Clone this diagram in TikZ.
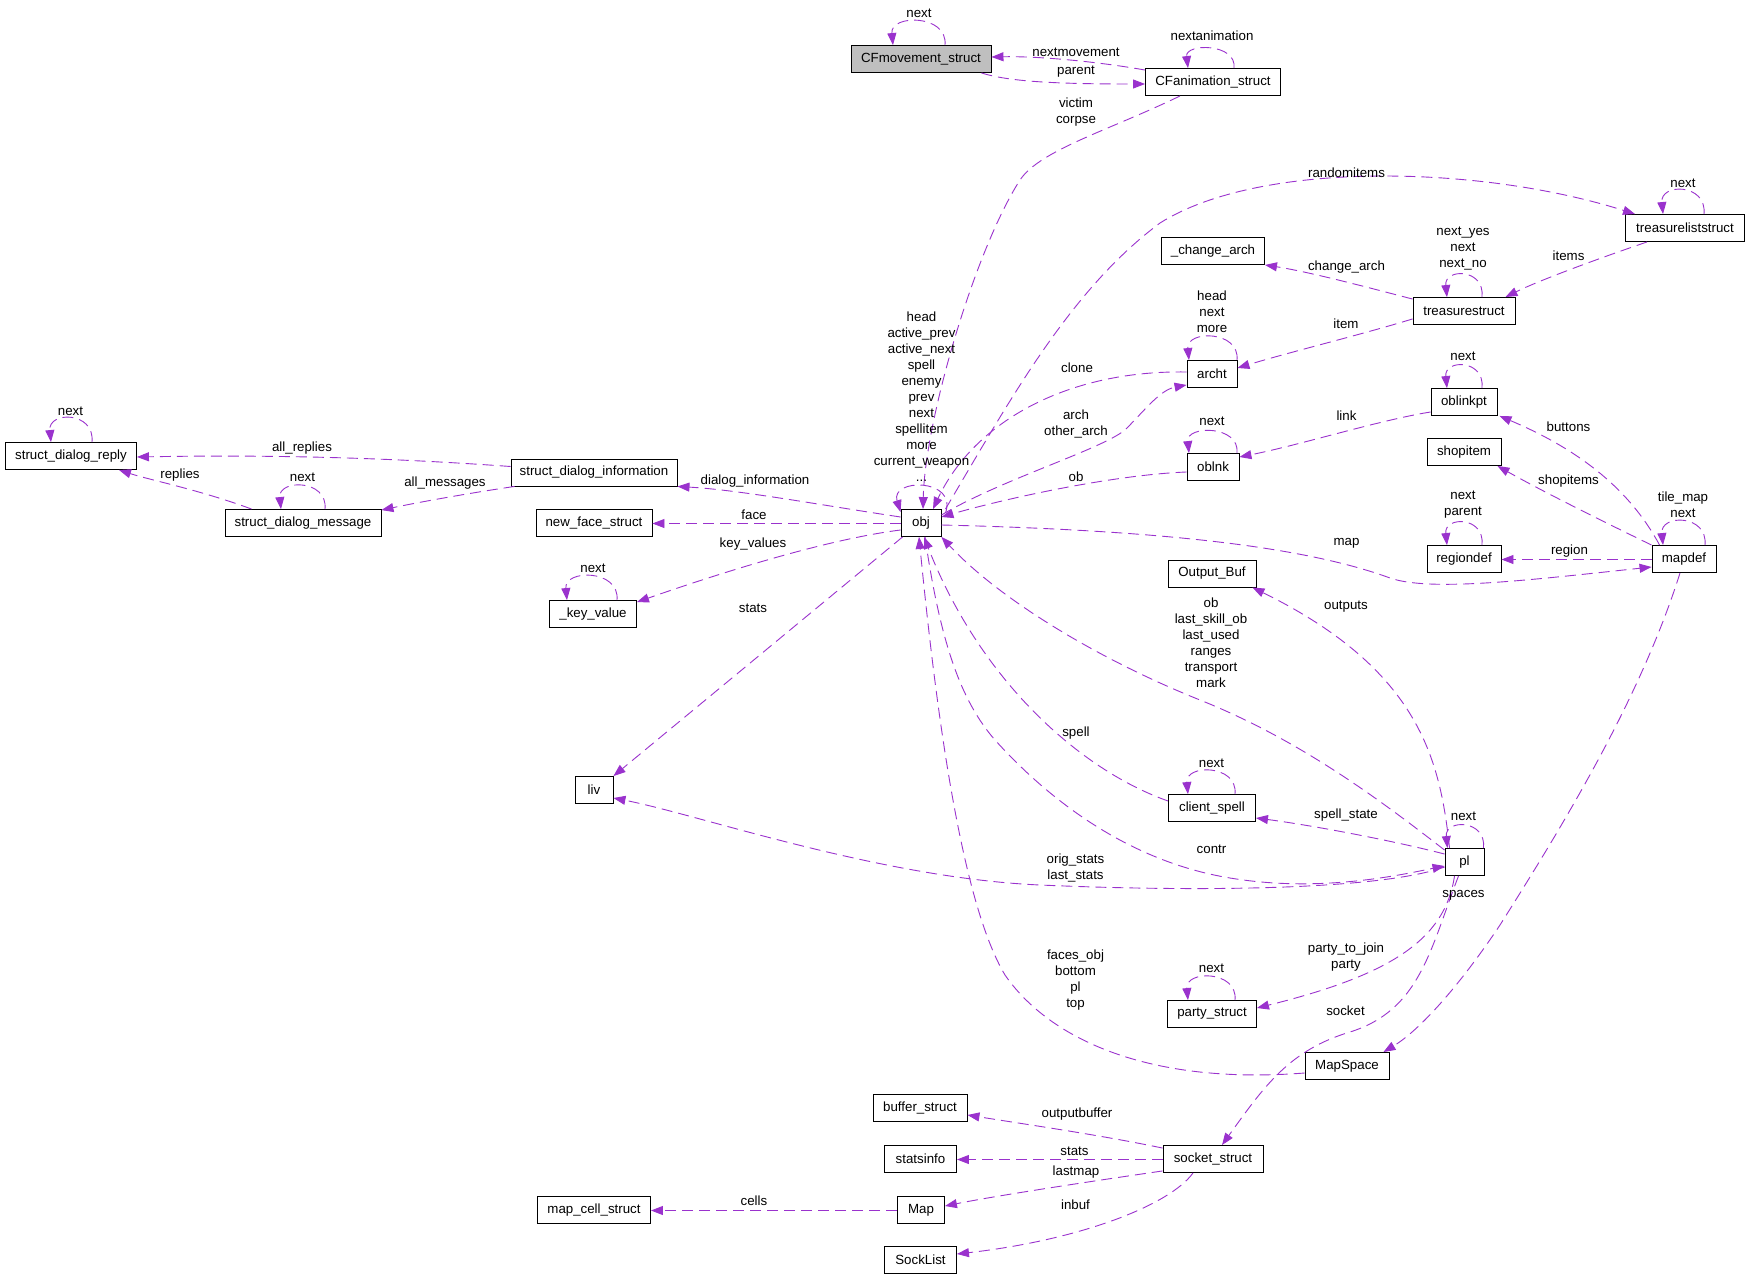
\documentclass[tikz,border=0pt]{standalone}
\usepackage{fontspec}
\setmainfont{Liberation Sans}
\usetikzlibrary{arrows.meta,calc}
\definecolor{oc}{RGB}{154,50,205}
\definecolor{hl}{RGB}{191,191,191}
\newcommand\selfloop[4]{\draw[rel] ($(#1.north)+(#2,0)$) .. controls +(3,-#4) and +(-3,-#4) .. ($(#1.north)+(-#3,0)$);}
\begin{document}
\begin{tikzpicture}[x=1pt,y=-1pt,
  every node/.style={font=\fontsize{13.3}{16}\selectfont, inner sep=0pt},
  cls/.style={draw=black, line width=0.9pt, minimum height=27pt, fill=white},
  lbl/.style={align=center},
  rel/.style={draw=oc, line width=0.9pt, dash pattern=on 11pt off 6pt, -{Triangle[length=12pt,width=9pt]}}]
\useasboundingbox (0,0) rectangle (1749,1279);
% classes
\node[cls, fill=hl, minimum width=140pt] (cfm) at (921,59) {CFmovement\_struct};
\node[cls, minimum width=135pt] (cfa) at (1213,82) {CFanimation\_struct};
\node[cls, minimum width=40pt] (obj) at (921,523) {obj};
\node[cls, minimum width=50pt] (archt) at (1212,374) {archt};
\node[cls, minimum width=52pt] (oblnk) at (1213,467) {oblnk};
\node[cls, minimum width=119pt] (tls) at (1685,228) {treasureliststruct};
\node[cls, minimum width=103pt] (cha) at (1213,251) {\_change\_arch};
\node[cls, minimum width=102pt] (tst) at (1464,311) {treasurestruct};
\node[cls, minimum width=66pt] (oblinkpt) at (1464,402) {oblinkpt};
\node[cls, minimum width=74pt] (shopitem) at (1464,452) {shopitem};
\node[cls, minimum width=74pt] (regiondef) at (1464,559) {regiondef};
\node[cls, minimum width=64pt] (mapdef) at (1684,559) {mapdef};
\node[cls, minimum width=88pt] (outbuf) at (1212,573.5) {Output\_Buf};
\node[cls, minimum width=131pt] (sdr) at (71,456) {struct\_dialog\_reply};
\node[cls, minimum width=166pt] (sdi) at (594,472.5) {struct\_dialog\_information};
\node[cls, minimum width=156pt] (sdm) at (303,523) {struct\_dialog\_message};
\node[cls, minimum width=116pt] (nfs) at (594,523) {new\_face\_struct};
\node[cls, minimum width=87pt] (kv) at (593,614) {\_key\_value};
\node[cls, minimum width=38pt] (liv) at (594,790) {liv};
\node[cls, minimum width=87pt] (cspell) at (1212,808) {client\_spell};
\node[cls, minimum width=39pt] (pl) at (1464.5,862) {pl};
\node[cls, minimum width=89pt] (party) at (1212,1014) {party\_struct};
\node[cls, minimum width=84pt] (mapspace) at (1347,1066) {MapSpace};
\node[cls, minimum width=94pt] (buffer) at (920,1108) {buffer\_struct};
\node[cls, minimum width=72pt] (statsinfo) at (920.5,1159) {statsinfo};
\node[cls, minimum width=100pt] (socket) at (1213,1159) {socket\_struct};
\node[cls, minimum width=47pt] (map) at (921,1210) {Map};
\node[cls, minimum width=113pt] (mcs) at (594,1210) {map\_cell\_struct};
\node[cls, minimum width=72pt] (socklist) at (920.5,1260) {SockList};

% self loops
\selfloop{cfm}{24}{28}{31}
\selfloop{cfa}{21}{25}{25}
\selfloop{tls}{19}{22}{31}
\selfloop{tst}{18}{17}{29}
\selfloop{archt}{25}{23}{30}
\selfloop{oblnk}{24}{24}{28}
\selfloop{oblinkpt}{18}{17}{29}
\selfloop{regiondef}{18}{17}{29}
\selfloop{mapdef}{21}{21}{31}
\selfloop{sdr}{21}{20}{31}
\selfloop{sdm}{22}{22}{30}
\selfloop{kv}{24}{26}{31}
\selfloop{cspell}{23}{24}{30}
\selfloop{party}{23}{24}{30}
\selfloop{pl}{19}{17}{29}
\draw[rel] ($(obj.north east)+(4,4)$) .. controls (958,478) and (890,478) .. ($(obj.north west)+(0,3)$);

% edges
\draw[rel] ($(cfa.north west)+(0,2)$) .. controls (1100,62) and (1040,56) .. ($(cfm.east)+(0,-2)$);
\draw[rel] ($(cfm.south east)+(-10,0)$) .. controls (1010,82) and (1060,84) .. ($(cfa.west)+(0,2)$);
\draw[rel] ($(cfa.south)+(-33,0)$) .. controls (1110,130) and (1040,150) .. (1020,180) .. controls (975,250) and (925,420) .. ($(obj.north)+(2,0)$);
\draw[rel] ($(obj.north east)+(4,0)$) .. controls (1010,400) and (1070,290) .. (1160,223) .. controls (1260,160) and (1480,165) .. ($(tls.north west)+(10,0)$);
\draw[rel] ($(tst.north west)+(0,2)$) .. controls (1370,288) and (1310,272) .. (cha.south east);
\draw[rel] ($(tls.south west)+(22,0)$) .. controls (1600,258) and (1540,280) .. ($(tst.north east)+(-10,0)$);
\draw[rel] ($(tst.south west)+(0,-6)$) .. controls (1360,335) and (1290,352) .. ($(archt.east)+(0,-6)$);
\draw[rel] ($(archt.west)+(0,-2)$) .. controls (1070,370) and (975,420) .. ($(obj.north)+(12,0)$);
\draw[rel] ($(obj.north east)+(0,6)$) .. controls (1000,480) and (1100,450) .. (1125,430) .. controls (1145,410) and (1160,390) .. ($(archt.south west)+(0,-3)$);
\draw[rel] ($(oblnk.west)+(0,5)$) .. controls (1110,475) and (1000,500) .. ($(obj.east)+(0,-6)$);
\draw[rel] ($(oblinkpt.west)+(0,10)$) .. controls (1380,420) and (1300,445) .. ($(oblnk.east)+(0,-10)$);
\draw[rel] ($(mapdef.north west)+(8,0)$) .. controls (1630,490) and (1580,450) .. ($(oblinkpt.south east)+(2,0)$);
\draw[rel] (mapdef.north west) .. controls (1600,520) and (1540,490) .. ($(shopitem.south east)+(-4,0)$);
\draw[rel] ($(mapdef.west)+(0,0.5)$) -- ($(regiondef.east)+(0,0.5)$);
\draw[rel] ($(obj.east)+(0,2)$) .. controls (1150,530) and (1300,545) .. (1390,578) .. controls (1430,592) and (1530,580) .. ($(mapdef.west)+(0,8)$);
\draw[rel] ($(mapdef.south)+(-4,0)$) .. controls (1640,700) and (1560,830) .. (1500,925) .. controls (1460,985) and (1420,1030) .. ($(mapspace.north east)+(-6,0)$);
\draw[rel] ($(pl.north west)+(5,0)$) .. controls (1440,760) and (1420,670) .. ($(outbuf.south east)+(-4,0)$);
\draw[rel] ($(pl.west)+(0,-8)$) .. controls (1390,840) and (1310,825) .. ($(cspell.east)+(0,10)$);
\draw[rel] ($(cspell.west)+(0,-7)$) .. controls (1080,770) and (980,680) .. ($(obj.south)+(3,0)$);
\draw[rel] ($(pl.north west)+(0,2)$) .. controls (1380,800) and (1300,740) .. (1200,700) .. controls (1100,660) and (1000,600) .. (obj.south east);
\draw[rel] ($(obj.south)+(4,0)$) .. controls (940,640) and (960,700) .. (995,740) .. controls (1040,790) and (1120,860) .. (1230,878) .. controls (1320,893) and (1400,875) .. ($(pl.west)+(0,4)$);
\draw[rel] ($(pl.west)+(0,5)$) .. controls (1380,890) and (1200,892) .. (1040,885) .. controls (880,878) and (700,815) .. ($(liv.east)+(0,8)$);
\draw[rel] ($(obj.south west)+(2,0)$) -- (liv.north east);
\draw[rel] ($(obj.west)+(0,0.5)$) -- ($(nfs.east)+(0,0.5)$);
\draw[rel] ($(obj.west)+(0,7)$) .. controls (820,540) and (700,580) .. ($(kv.north east)+(0,2)$);
\draw[rel] ($(obj.west)+(0,-6)$) .. controls (820,505) and (740,490) .. (sdi.south east);
\draw[rel] ($(sdi.west)+(0,-6)$) .. controls (420,460) and (300,454) .. ($(sdr.east)+(0,1)$);
\draw[rel] ($(sdi.south west)+(4,0)$) .. controls (470,493) and (420,502) .. ($(sdm.north east)+(0,1)$);
\draw[rel] ($(sdm.north west)+(27,0)$) .. controls (200,490) and (150,480) .. ($(sdr.south east)+(-18,0)$);
\draw[rel] ($(mapspace.west)+(0,7)$) .. controls (1150,1085) and (1050,1040) .. (1005,975) .. controls (960,900) and (935,700) .. ($(obj.south)+(-2,0)$);
\draw[rel] ($(pl.south)+(-10,0)$) .. controls (1445,940) and (1390,975) .. ($(party.east)+(0,-6)$);
\draw[rel] ($(pl.south)+(-6,0)$) .. controls (1430,950) and (1420,1010) .. (1350,1032) .. controls (1290,1050) and (1265,1085) .. ($(socket.north)+(9,0)$);
\draw[rel] ($(socket.north west)+(0,3)$) .. controls (1100,1135) and (1030,1125) .. ($(buffer.east)+(0,7)$);
\draw[rel] ($(socket.west)+(0,0.5)$) -- ($(statsinfo.east)+(0,0.5)$);
\draw[rel] ($(socket.south west)+(0,-2)$) .. controls (1100,1180) and (1000,1195) .. ($(map.east)+(0,-4)$);
\draw[rel] ($(socket.south)+(-20,0)$) .. controls (1170,1205) and (1080,1240) .. ($(socklist.east)+(0,-6)$);
\draw[rel] ($(map.west)+(0,0.5)$) -- ($(mcs.east)+(0,0.5)$);

% labels
\node[lbl] (l1) at (919,13) {next};
\node[lbl] (l2) at (1076,52) {nextmovement};
\node[lbl] (l3) at (1076,72) {parent};
\node[lbl] (l4) at (1212,36) {nextanimation};
\node[lbl] (l5) at (1076,112) {victim\\corpse};
\node[lbl] (l6) at (921.5,397) {head\\active\_prev\\active\_next\\spell\\enemy\\prev\\next\\spellitem\\more\\current\_weapon\\...};
\node[lbl] (l7) at (1077,368) {clone};
\node[lbl] (l8) at (1076,424) {arch\\other\_arch};
\node[lbl] (l9) at (1076,477) {ob};
\node[lbl] (l10) at (1212,312) {head\\next\\more};
\node[lbl] (l11) at (1212,421) {next};
\node[lbl] (l12) at (1346.5,173) {randomitems};
\node[lbl] (l13) at (1683,183) {next};
\node[lbl] (l14) at (1346.5,267) {change\_arch};
\node[lbl] (l15) at (1463,249) {next\_yes\\next\\next\_no};
\node[lbl] (l16) at (1568.5,256) {items};
\node[lbl] (l17) at (1346,324) {item};
\node[lbl] (l18) at (1463,356) {next};
\node[lbl] (l19) at (1346.5,416) {link};
\node[lbl] (l20) at (1568.5,427) {buttons};
\node[lbl] (l21) at (1568.5,481) {shopitems};
\node[lbl] (l22) at (1463,505) {next\\parent};
\node[lbl] (l23) at (1683,505) {tile\_map\\next};
\node[lbl] (l24) at (1569.5,551) {region};
\node[lbl] (l25) at (1346.5,543) {map};
\node[lbl] (l26) at (70.5,411) {next};
\node[lbl] (l27) at (302,448) {all\_replies};
\node[lbl] (l28) at (180,475) {replies};
\node[lbl] (l29) at (302.5,477) {next};
\node[lbl] (l30) at (445,483) {all\_messages};
\node[lbl] (l31) at (593,568) {next};
\node[lbl] (l32) at (754,515) {face};
\node[lbl] (l33) at (753,544) {key\_values};
\node[lbl] (l34) at (753,608) {stats};
\node[lbl] (l35) at (755,481) {dialog\_information};
\node[lbl] (l36) at (1211.5,763) {next};
\node[lbl] (l37) at (1346,815) {spell\_state};
\node[lbl] (l38) at (1463.5,816) {next};
\node[lbl] (l39) at (1211.5,849) {contr};
\node[lbl] (l40) at (1075.5,868) {orig\_stats\\last\_stats};
\node[lbl] (l41) at (1463.5,895) {spaces};
\node[lbl] (l42) at (1075.5,980) {faces\_obj\\bottom\\pl\\top};
\node[lbl] (l43) at (1211.5,968) {next};
\node[lbl] (l44) at (1346,957) {party\_to\_join\\party};
\node[lbl] (l45) at (1345.5,1011) {socket};
\node[lbl] (l46) at (1077,1114) {outputbuffer};
\node[lbl] (l47) at (1074.5,1151) {stats};
\node[lbl] (l48) at (1076,1172) {lastmap};
\node[lbl] (l49) at (1075.5,1205) {inbuf};
\node[lbl] (l50) at (754,1201) {cells};
\node[lbl] (l51) at (1211,643) {ob\\last\_skill\_ob\\last\_used\\ranges\\transport\\mark};
\node[lbl] (l52) at (1346,607) {outputs};
\node[lbl] (l53) at (1076,733) {spell};
\end{tikzpicture}
\end{document}
